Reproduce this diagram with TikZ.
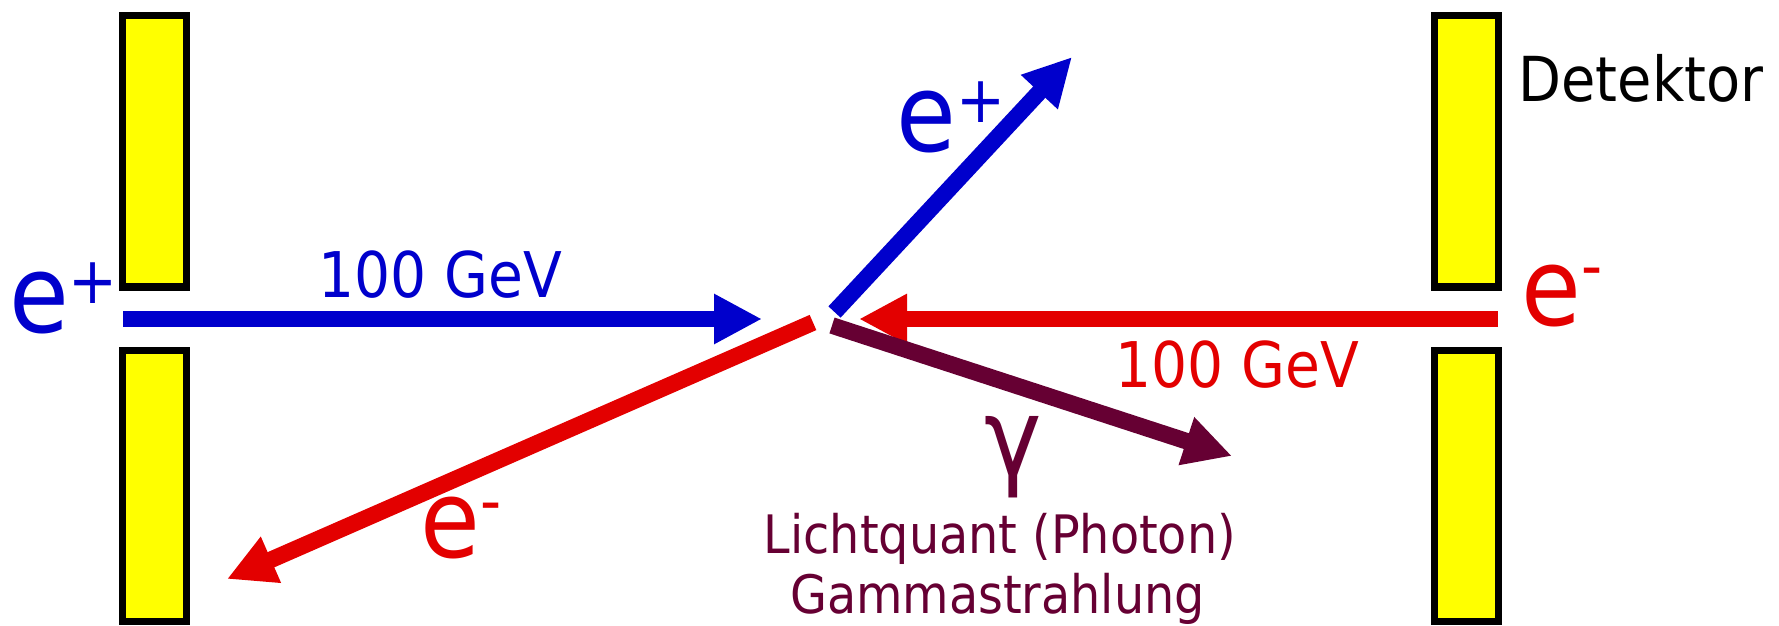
\documentclass[tikz,border=0pt]{standalone}
\usepackage{fontspec}
\setmainfont{DejaVu Sans Condensed}
\usetikzlibrary{arrows.meta}
\definecolor{eblue}{HTML}{0000CC}
\definecolor{ered}{HTML}{E30000}
\definecolor{gpurple}{HTML}{660033}
\definecolor{detyellow}{HTML}{FFFF00}

\begin{document}
\begin{tikzpicture}[x=0.5pt,y=-0.5pt,>={Triangle[length=24pt,width=23.5pt]}]
        \tikzset{det/.style={draw, fill=detyellow, line width=3.75pt, minimum width=32pt, minimum height=135.5pt, inner sep=0pt},
                 beam/.style={->, line width=8.3pt},
                 big/.style={inner sep=0pt, font=\fontsize{54}{60}\selectfont},
                 sup/.style={inner sep=0pt, anchor=base, font=\fontsize{32.5}{38}\selectfont},
                 lbl/.style={inner sep=0pt, anchor=base, font=\fontsize{31.5}{38}\selectfont},
                 small/.style={inner sep=0pt, anchor=base, font=\fontsize{26.5}{32}\selectfont, text=gpurple}}
        \useasboundingbox (0,0) rectangle (1779,626);
        % detector plates
        \node[det] (detlt) at (154.5,151.25) {};
        \node[det] (detlb) at (154.5,486) {};
        \node[det] (detrt) at (1466.5,151.25) {};
        \node[det] (detrb) at (1466.5,486) {};
        \node[lbl, font=\fontsize{31}{38}\selectfont] (detlabel) at (1641,102) {Detektor};
        % incoming beams
        \coordinate (posin) at (123,319);
        \coordinate (posend) at (762,319);
        \coordinate (elin) at (1498,319);
        \coordinate (elend) at (859,319);
        \draw[beam, eblue] (posin) -- (posend);
        \draw[beam, ered] (elin) -- (elend);
        \node[big, text=eblue] (posleft) at (39,303) {e};
        \node[sup, text=eblue] (posleftsup) at (93.5,303) {+};
        \node[big, text=ered] (elright) at (1551,296) {e};
        \node[sup, text=ered] (elrightsup) at (1592,288.5) {-};
        \node[lbl, text=eblue] (posgev) at (440.5,297) {100 GeV};
        \node[lbl, text=ered] (elgev) at (1237,387) {100 GeV};
        % outgoing particles
        \coordinate (posout) at (834.5,312);
        \coordinate (postip) at (1072,57);
        \coordinate (elout) at (813,322.5);
        \coordinate (eltip) at (227,579);
        \coordinate (phout) at (832,325.5);
        \coordinate (phtip) at (1232,456);
        \draw[beam, eblue] (posout) -- (postip);
        \draw[beam, ered] (elout) -- (eltip);
        \draw[beam, gpurple] (phout) -- (phtip);
        \node[big, text=eblue] (postop) at (926.5,122) {e};
        \node[sup, text=eblue] (postopsup) at (981,122.7) {+};
        \node[big, text=ered] (elbottom) at (450,528) {e};
        \node[sup, text=ered] (elbottomsup) at (491,523) {-};
        \node[big, text=gpurple] (gammasym) at (1013,457) {γ};
        \node[small] (lichtq) at (1000,553) {Lichtquant (Photon)};
        \node[small] (gammastr) at (997.5,613) {Gammastrahlung};
\end{tikzpicture}
\end{document}
